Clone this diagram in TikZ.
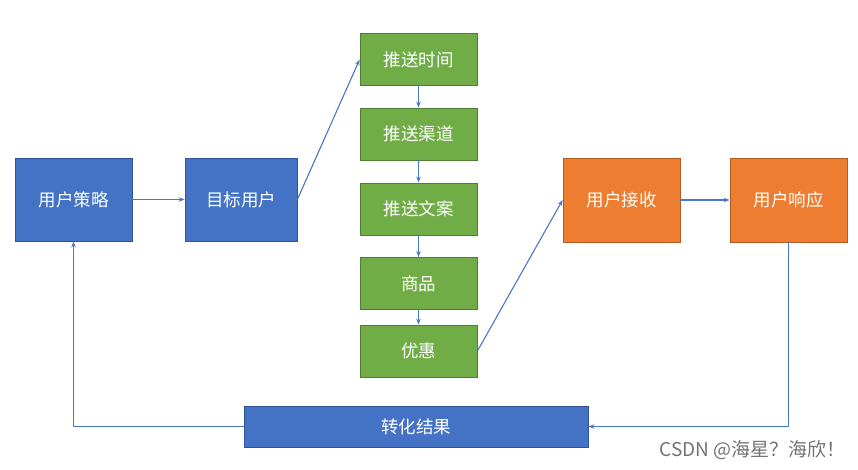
\documentclass[tikz,border=0pt]{standalone}
\usepackage{fontspec}
\setmainfont{Noto Sans CJK SC}
\usepackage{tikz}
\usetikzlibrary{positioning}
\usetikzlibrary{arrows.meta,calc}
\definecolor{boxblue}{HTML}{4472C4}
\definecolor{boxblueline}{HTML}{2F5597}
\definecolor{boxgreen}{HTML}{70AD47}
\definecolor{boxgreenline}{HTML}{507E32}
\definecolor{boxorange}{HTML}{ED7D31}
\definecolor{boxorangeline}{HTML}{AE5A21}
\definecolor{linkblue}{HTML}{4A78C8}
\tikzstyle{stepbox}=[rectangle,draw,line width=0.8pt,text=white,inner sep=0pt,font=\fontsize{17.5}{21}\selectfont]
\tikzstyle{bluebox}=[stepbox,fill=boxblue,draw=boxblueline,minimum width=117pt,minimum height=83pt]
\tikzstyle{greenbox}=[stepbox,fill=boxgreen,draw=boxgreenline,minimum width=117pt,minimum height=52pt]
\tikzstyle{orangebox}=[stepbox,fill=boxorange,draw=boxorangeline,minimum width=117pt,minimum height=84pt]
\tikzstyle{edge} = [draw,linkblue,line width=1.1pt,-{Stealth[length=6pt,width=4.5pt]}]

\begin{document}
\begin{tikzpicture}[x=1pt,y=-1pt]
    \useasboundingbox (0,0) rectangle (858,470);

    \node[bluebox] (celue) at (73.5,199.5) {用户策略};
    \node[bluebox,minimum width=112pt] (mubiao) at (241,199.5) {目标用户};

    \foreach \pos/ \name/ \txt in {{(418.5,59.5)/shijian/推送时间}, {(418.5,134)/qudao/推送渠道}, {(418.5,209)/wenan/推送文案}, {(418.5,283.5)/shangpin/商品}, {(418.5,351)/youhui/优惠}}
        \node[greenbox] (\name) at \pos {\txt};

    \node[orangebox] (jieshou) at (621.5,200) {用户接收};
    \node[orangebox] (xiangying) at (788.5,200) {用户响应};
    \node[bluebox,minimum width=344pt,minimum height=41pt] (zhuanhua) at (416,426.5) {转化结果};

    % arrows between the steps
    \path[edge] (celue) -- (mubiao);
    \path[edge] (mubiao.east) -- (shijian.west);
    \foreach \source/ \dest in {shijian/qudao, qudao/wenan, wenan/shangpin, shangpin/youhui}
        \path[edge] (\source) -- (\dest);
    \path[edge] (youhui.east) -- (jieshou.west);
    \path[edge] (jieshou) -- (xiangying);

    % feedback loop
    \path[edge] (xiangying.south) |- (zhuanhua.east);
    \path[edge] (zhuanhua.west) -| (celue.south);

    \node[text=black!55,font=\fontsize{19}{22}\selectfont,anchor=east] (mark) at (849,450) {CSDN @海星？海欣！};
\end{tikzpicture}
\end{document}
